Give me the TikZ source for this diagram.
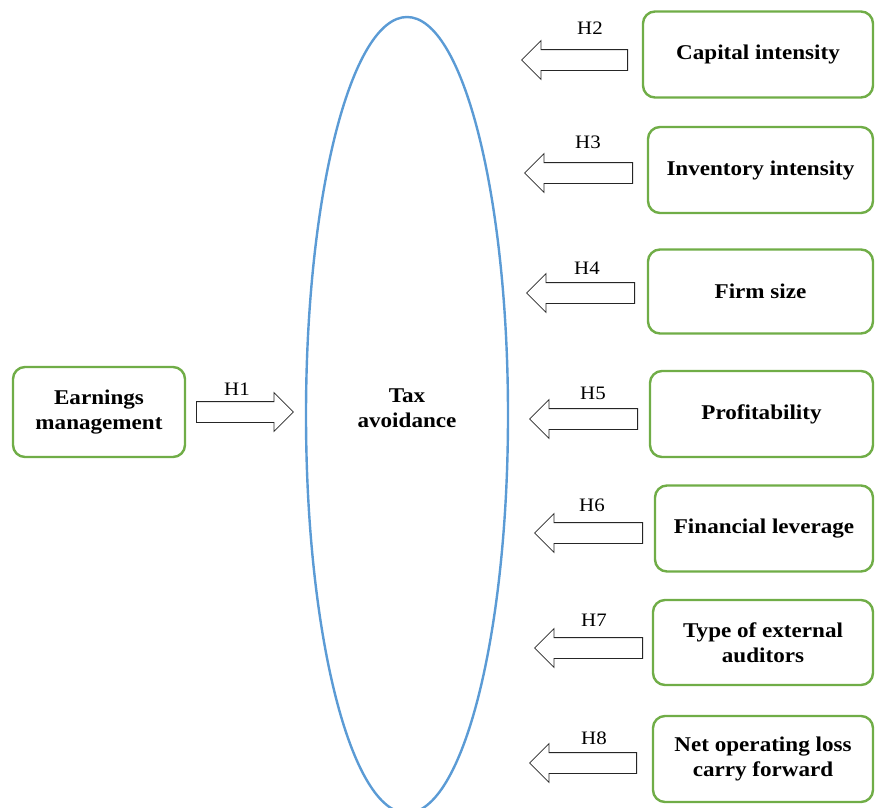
\documentclass[tikz,border=0pt]{standalone}
\usepackage{fontspec}
\setmainfont{Liberation Serif}[FakeStretch=1.1]
\usepackage{tikz}
\usetikzlibrary{shapes.geometric,shapes.arrows}
\definecolor{boxgreen}{HTML}{70AD47}
\definecolor{ovalblue}{HTML}{5B9BD5}

\begin{document}
\begin{tikzpicture}[x=1pt,y=-1pt,
  factor/.style={draw=boxgreen,line width=2.4pt,rounded corners=12pt,fill=white,align=center,
    font=\fontsize{21}{25}\selectfont\bfseries,minimum height=86pt,inner sep=0pt},
  hyparrow/.style={single arrow,draw=black!85,line width=0.8pt,fill=white,minimum height=#1,
    inner xsep=0pt,inner ysep=10pt,single arrow head extend=9pt,single arrow head indent=0pt,anchor=tail},
  hyparrow/.default=108pt,
  toleft/.style={shape border rotate=180},
  hyplabel/.style={font=\fontsize{19}{22}\selectfont,inner sep=0pt}]
\useasboundingbox (0,0) rectangle (875,807);% picture frame, y runs downwards
\node[draw=ovalblue,line width=2.4pt,ellipse,minimum width=202pt,minimum height=796pt,inner sep=0pt,
  label={[align=center,font=\fontsize{21}{25}\selectfont\bfseries,yshift=7pt]center:Tax\\avoidance}]
  (taxav) at (407,415) {};% dependent variable
\node[factor,minimum width=172pt,minimum height=90pt] (earnmgmt) at (99,412) {Earnings\\management};
\node[factor,minimum width=230pt] (capint) at (758,54.5) {Capital intensity};
\node[factor,minimum width=225pt] (invint) at (760.5,170) {Inventory intensity};
\node[factor,minimum width=225pt,minimum height=84pt] (fsize) at (760.5,291.5) {Firm size};
\node[factor,minimum width=223pt] (profit) at (761.5,414) {Profitability};
\node[factor,minimum width=218pt] (finlev) at (764,528.5) {Financial leverage};
\node[factor,minimum width=220pt,minimum height=85pt] (auditor) at (763,642.5) {Type of external\\auditors};
\node[factor,minimum width=220pt] (nolcf) at (763,759) {Net operating loss\\carry forward};
% hypothesis arrows (placed by their tail)
\node[hyparrow=97pt] (arrH1) at (196,412) {};
\node[hyparrow=106pt,toleft] (arrH2) at (628,60) {};
\node[hyparrow,toleft] (arrH3) at (633,173) {};
\node[hyparrow,toleft] (arrH4) at (635,293) {};
\node[hyparrow,toleft] (arrH5) at (638,419) {};
\node[hyparrow,toleft] (arrH6) at (643,533) {};
\node[hyparrow,toleft] (arrH7) at (643,648) {};
\node[hyparrow=107pt,toleft] (arrH8) at (637,763) {};
% hypothesis labels
\node[hyplabel] (labH1) at (237,389) {H1};
\node[hyplabel] (labH2) at (590,28) {H2};
\node[hyplabel] (labH3) at (588,142) {H3};
\node[hyplabel] (labH4) at (587,268) {H4};
\node[hyplabel] (labH5) at (593,393) {H5};
\node[hyplabel] (labH6) at (592,505) {H6};
\node[hyplabel] (labH7) at (594,620) {H7};
\node[hyplabel] (labH8) at (594,738) {H8};
\end{tikzpicture}
\end{document}
